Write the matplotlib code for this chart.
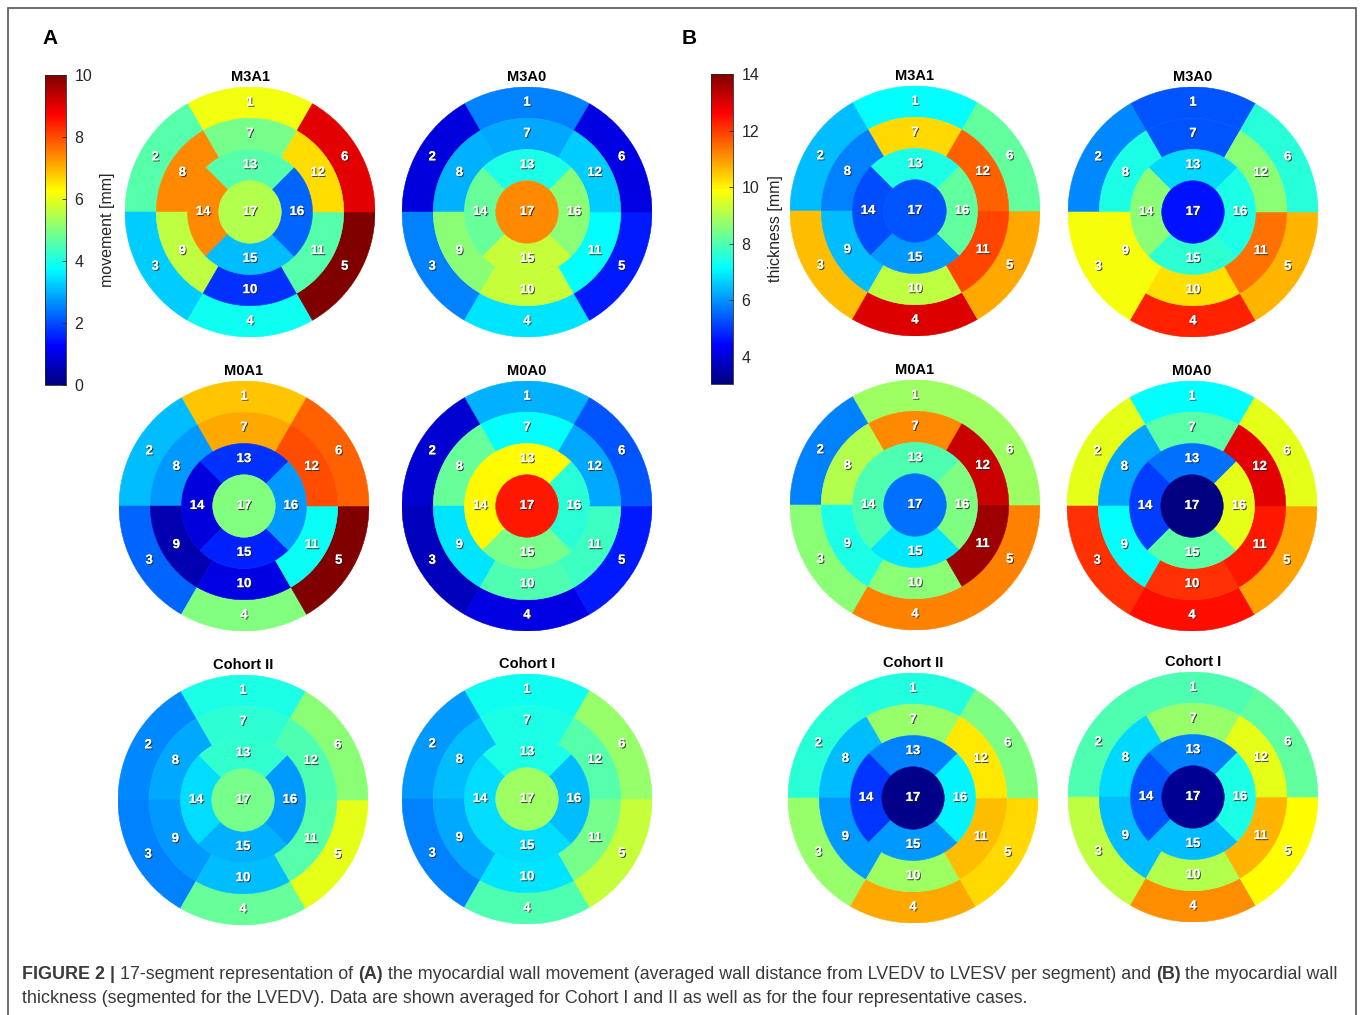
import numpy as np
import matplotlib.pyplot as plt
import matplotlib as mpl
from matplotlib.patches import Wedge, Circle
from matplotlib import patheffects

plt.rcParams['font.family'] = ['Liberation Sans', 'DejaVu Sans']

W, H = 1360, 1015

# 17-segment values (segment 1..17)
# panel A: wall movement [mm]
mov_m3a1 = [6.1, 4.6, 3.25, 3.9, 10.0, 9.0, 4.9, 7.4, 5.6, 1.75, 4.6, 6.6, 4.6, 7.4, 3.1, 2.25, 5.5]
mov_m3a0 = [2.5, 0.9, 2.5, 3.5, 1.5, 1.0, 2.9, 3.0, 5.1, 5.7, 3.75, 3.25, 4.0, 4.75, 5.7, 5.1, 7.4]
mov_m0a1 = [6.8, 3.1, 2.25, 5.0, 10.0, 7.8, 7.1, 2.75, 0.5, 1.0, 3.85, 8.0, 1.75, 0.9, 1.6, 2.75, 5.0]
mov_m0a0 = [3.0, 0.8, 0.6, 1.0, 1.5, 2.1, 3.75, 4.75, 3.5, 4.5, 4.35, 2.9, 6.25, 6.3, 4.9, 4.15, 8.5]
mov_coh2 = [4.0, 2.6, 2.5, 4.75, 6.0, 5.1, 4.2, 2.9, 2.75, 3.1, 4.6, 4.5, 4.25, 3.4, 3.0, 2.75, 4.9]
mov_coh1 = [3.9, 2.75, 2.5, 4.5, 5.7, 5.2, 4.0, 3.1, 2.9, 3.5, 4.9, 4.6, 4.0, 3.4, 3.4, 3.1, 5.3]

# panel B: wall thickness [mm]
thk_m3a1 = [7.16, 6.45, 10.6, 13.0, 10.8, 8.2, 10.3, 5.8, 6.45, 9.2, 11.9, 11.6, 7.45, 5.25, 6.05, 8.2, 5.35]
thk_m3a0 = [5.35, 5.9, 9.8, 12.25, 10.7, 7.55, 5.35, 7.45, 9.8, 10.2, 11.4, 8.65, 6.75, 8.65, 7.65, 7.45, 4.6]
thk_m0a1 = [8.85, 5.8, 8.65, 11.25, 11.25, 8.85, 11.15, 9.05, 7.45, 8.65, 13.7, 13.2, 8.0, 8.0, 6.9, 8.5, 5.65]
thk_m0a0 = [7.16, 9.6, 12.1, 12.5, 10.9, 9.6, 8.1, 6.2, 7.16, 12.1, 12.35, 12.9, 5.65, 5.1, 8.1, 9.6, 3.05]
thk_coh2 = [7.5, 7.6, 8.75, 10.8, 10.3, 8.5, 8.75, 6.45, 6.05, 8.85, 10.6, 10.15, 5.8, 5.0, 6.05, 7.05, 3.15]
thk_coh1 = [8.0, 8.0, 9.2, 11.1, 9.9, 8.2, 8.75, 6.75, 6.45, 9.05, 10.7, 9.6, 5.8, 5.35, 6.45, 7.45, 3.3]

titles = ['M3A1', 'M3A0', 'M0A1', 'M0A0', 'Cohort II', 'Cohort I']
mov_data = [mov_m3a1, mov_m3a0, mov_m0a1, mov_m0a0, mov_coh2, mov_coh1]
thk_data = [thk_m3a1, thk_m3a0, thk_m0a1, thk_m0a0, thk_coh2, thk_coh1]

# centres of the bullseyes in pixels (x, y from top)
centers_a = [(250, 212), (527, 212), (244, 506), (527, 506), (243, 800), (527, 799)]
centers_b = [(915, 211), (1193, 212), (915, 505), (1192, 506), (913, 798), (1193, 797)]
RAD = 125

# matlab style jet
cmap = mpl.colors.LinearSegmentedColormap('mjet', {
    'red':   [(0, 0, 0), (0.375, 0, 0), (0.625, 1, 1), (0.875, 1, 1), (1, 0.5, 0.5)],
    'green': [(0, 0, 0), (0.125, 0, 0), (0.375, 1, 1), (0.625, 1, 1), (0.875, 0, 0), (1, 0, 0)],
    'blue':  [(0, 0.5, 0.5), (0.125, 1, 1), (0.375, 1, 1), (0.625, 0, 0), (1, 0, 0)]}, N=256)
norm_a = mpl.colors.Normalize(0, 10)
norm_b = mpl.colors.Normalize(3.05, 14)

fig = plt.figure(figsize=(W / 100, H / 100), dpi=100)

shadow = [patheffects.withSimplePatchShadow(offset=(0.8, -0.8), shadow_rgbFace='#202020', alpha=0.8),
          patheffects.Normal()]


def bullseye(cx, cy, vals, norm, title):
    ax = fig.add_axes([(cx - RAD) / W, 1 - (cy + RAD) / H, 2 * RAD / W, 2 * RAD / H])
    ax.set_xlim(-1, 1)
    ax.set_ylim(-1, 1)
    ax.set_aspect('equal')
    ax.axis('off')
    # basal and mid rings, 6 segments each
    for ring, (r0, r1) in enumerate([(0.75, 1.0), (0.5, 0.75)]):
        for k in range(6):
            seg = ring * 6 + k
            mid = 90 + 60 * k
            c = cmap(norm(vals[seg]))
            ax.add_patch(Wedge((0, 0), r1, mid - 30, mid + 30, width=r1 - r0,
                               facecolor=c, edgecolor=c, lw=0.4))
            rr = (r0 + r1) / 2
            ax.text(rr * np.cos(np.radians(mid)), rr * np.sin(np.radians(mid)), str(seg + 1),
                    ha='center', va='center', color='white', fontsize=9.5, fontweight='bold',
                    path_effects=shadow)
    # apical ring, 4 segments
    for k in range(4):
        seg = 12 + k
        mid = 90 + 90 * k
        c = cmap(norm(vals[seg]))
        ax.add_patch(Wedge((0, 0), 0.5, mid - 45, mid + 45, width=0.25,
                           facecolor=c, edgecolor=c, lw=0.4))
        ax.text(0.375 * np.cos(np.radians(mid)), 0.375 * np.sin(np.radians(mid)), str(seg + 1),
                ha='center', va='center', color='white', fontsize=9.5, fontweight='bold',
                path_effects=shadow)
    c = cmap(norm(vals[16]))
    ax.add_patch(Circle((0, 0), 0.25, facecolor=c, edgecolor=c, lw=0.4))
    ax.text(0, 0, '17', ha='center', va='center', color='white', fontsize=9.5,
            fontweight='bold', path_effects=shadow)
    ax.text(0, 1.08, title, ha='center', va='center', fontsize=10.5, fontweight='bold')


for (cx, cy), v, t in zip(centers_a, mov_data, titles):
    bullseye(cx, cy, v, norm_a, t)
for (cx, cy), v, t in zip(centers_b, thk_data, titles):
    bullseye(cx, cy, v, norm_b, t)


def colorbar(x0, x1, y0, y1, norm, ticks, label):
    cax = fig.add_axes([x0 / W, 1 - y1 / H, (x1 - x0) / W, (y1 - y0) / H])
    cb = fig.colorbar(mpl.cm.ScalarMappable(norm=norm, cmap=cmap), cax=cax)
    cb.set_ticks(ticks)
    cb.ax.tick_params(direction='in', length=3, width=0.6, labelsize=11.5, colors='#262626', pad=6)
    cb.outline.set_linewidth(0.6)
    cb.outline.set_edgecolor('#262626')
    cb.set_label(label, fontsize=11.5, color='#262626', labelpad=6)


colorbar(45, 66, 75, 385, norm_a, [0, 2, 4, 6, 8, 10], 'movement [mm]')
colorbar(711, 733, 74, 384, norm_b, [4, 6, 8, 10, 12, 14], 'thickness [mm]')

fig.text(50 / W, 1 - 38 / H, 'A', fontsize=15, fontweight='bold', ha='center', va='center')
fig.text(689 / W, 1 - 38 / H, 'B', fontsize=15, fontweight='bold', ha='center', va='center')

# frame around the figure
frame = plt.Rectangle((8 / W, -0.05), (1356 - 8) / W, 1 - 8 / H + 0.05, transform=fig.transFigure,
                      fill=False, edgecolor='#555555', lw=1.2)
fig.patches.append(frame)

# caption with mixed bold text
cap_color = '#3a3a3a'
line1 = [('FIGURE 2 | ', 'bold'), ('17-segment representation of ', 'normal'), ('(A)', 'bold'),
         (' the myocardial wall movement (averaged wall distance from LVEDV to LVESV per segment) and ', 'normal'),
         ('(B)', 'bold'), (' the myocardial wall', 'normal')]
line2 = [('thickness (segmented for the LVEDV). Data are shown averaged for Cohort I and II as well as '
          'for the four representative cases.', 'normal')]

renderer = fig.canvas.get_renderer()


def caption_line(parts, x, y):
    for s, w in parts:
        t = fig.text(x / W, 1 - y / H, s, fontsize=12.9, fontweight=w, color=cap_color, va='baseline')
        x += t.get_window_extent(renderer=renderer).width


caption_line(line1, 22, 979)
caption_line(line2, 22, 1003)

fig.savefig('out.png', dpi=100, facecolor='white')
